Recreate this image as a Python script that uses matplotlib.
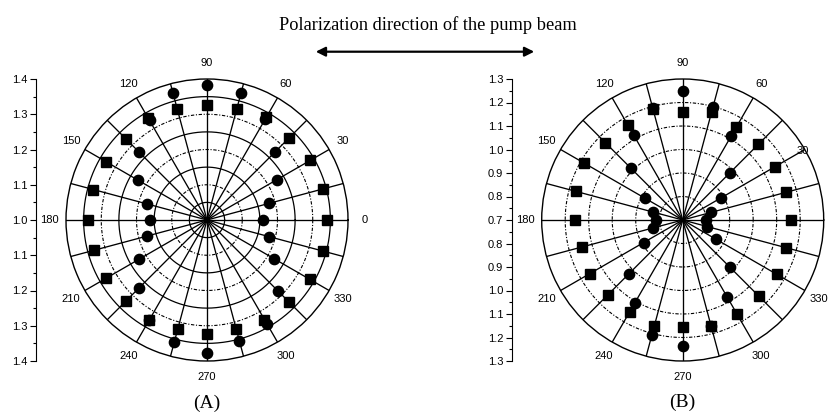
import numpy as np
import matplotlib
matplotlib.use("Agg")
import matplotlib.pyplot as plt

# ---------------- data ----------------
angles_deg = [0, 15, 30, 45, 60, 75, 90, 105, 120, 135, 150, 165,
              180, 195, 210, 225, 240, 255, 270, 285, 300, 315, 330, 345]

A_circles = [1.160, 1.182, 1.229, 1.271, 1.330, 1.373, 1.383, 1.372, 1.326, 1.271, 1.226, 1.175,
             1.162, 1.177, 1.223, 1.271, 1.328, 1.357, 1.376, 1.356, 1.342, 1.284, 1.220, 1.182]
A_squares = [1.340, 1.340, 1.338, 1.330, 1.337, 1.325, 1.326, 1.325, 1.333, 1.326, 1.331, 1.334,
             1.337, 1.333, 1.331, 1.323, 1.328, 1.320, 1.324, 1.319, 1.326, 1.329, 1.337, 1.340]

B_circles = [0.800, 0.825, 0.890, 0.985, 1.115, 1.200, 1.250, 1.193, 1.116, 1.010, 0.885, 0.832,
             0.815, 0.830, 0.892, 1.023, 1.110, 1.207, 1.235, 1.168, 1.076, 0.985, 0.864, 0.808]
B_squares = [1.161, 1.155, 1.152, 1.156, 1.155, 1.174, 1.161, 1.189, 1.169, 1.166, 1.183, 1.170,
             1.157, 1.145, 1.156, 1.151, 1.151, 1.169, 1.157, 1.168, 1.163, 1.160, 1.162, 1.155]

A_angle_labels = [0, 30, 60, 90, 120, 150, 180, 210, 240, 270, 300, 330]
B_angle_labels = [30, 60, 90, 120, 150, 180, 210, 240, 270, 300, 330]

A_rlim = (1.0, 1.4)
A_rings_solid = [1.05, 1.15, 1.25, 1.35]
A_rings_dashed = [1.10, 1.20, 1.30]
A_scale_ticks = [-0.4, -0.3, -0.2, -0.1, 0.0, 0.1, 0.2, 0.3, 0.4]
A_scale_labels = ["1.4", "1.3", "1.2", "1.1", "1.0", "1.1", "1.2", "1.3", "1.4"]

B_rlim = (0.7, 1.3)
B_rings_solid = []
B_rings_dashed = [0.8, 0.9, 1.0, 1.1, 1.2]
B_scale_ticks = [-0.6, -0.5, -0.4, -0.3, -0.2, -0.1, 0.0, 0.1, 0.2, 0.3, 0.4, 0.5, 0.6]
B_scale_labels = ["1.3", "1.2", "1.1", "1.0", "0.9", "0.8", "0.7",
                  "0.8", "0.9", "1.0", "1.1", "1.2", "1.3"]

title = "Polarization direction of the pump beam"

# ---------------- layout ----------------
W, H = 830, 416
fig = plt.figure(figsize=(W / 100, H / 100), dpi=100)
fig.patch.set_facecolor("white")

SANS = ["Liberation Sans", "DejaVu Sans"]
SERIF = ["Liberation Serif", "DejaVu Serif"]


def box(cx, cy, r):
    return [(cx - r) / W, (H - cy - r) / H, 2 * r / W, 2 * r / H]


def polar_panel(cx, cy, rad, rlim, solid, dashed, circ, sq, labels, label_adjust=None):
    ax = fig.add_axes(box(cx, cy, rad), projection="polar")
    ax.set_ylim(*rlim)
    ax.set_xticks([])
    ax.set_yticks([])
    ax.grid(False)
    ax.spines["polar"].set_linewidth(1.0)
    ax.spines["polar"].set_color("black")
    th = np.linspace(0, 2 * np.pi, 721)
    for r in solid:
        ax.plot(th, np.full_like(th, r), color="black", lw=0.9, zorder=2)
    for r in dashed:
        ax.plot(th, np.full_like(th, r), color="black", lw=0.8,
                ls=(0, (3, 1.5, 1, 1.5)), zorder=2)
    for a in angles_deg:
        t = np.deg2rad(a)
        ax.plot([t, t], [rlim[0], rlim[1]], color="black", lw=0.95, zorder=2)
    t = np.deg2rad(angles_deg)
    ax.plot(t, sq, ls="none", marker="s", ms=6.6, color="black", zorder=4, clip_on=False)
    ax.plot(t, circ, ls="none", marker="o", ms=7.4, color="black", zorder=5, clip_on=False)
    span = rlim[1] - rlim[0]
    for a in labels:
        frac = 1.115
        if label_adjust and a in label_adjust:
            frac = label_adjust[a]
        ax.text(np.deg2rad(a), rlim[0] + frac * span, str(a), ha="center", va="center",
                fontsize=8, family=SANS, clip_on=False)
    return ax


def scale_axis(x, cy, rad, ticks, labels):
    ax = fig.add_axes([x / W, (H - cy - rad) / H, 0.0001, 2 * rad / H])
    lim = max(abs(ticks[0]), abs(ticks[-1]))
    ax.set_ylim(-lim, lim)
    ax.set_xticks([])
    for s in ["top", "right", "bottom"]:
        ax.spines[s].set_visible(False)
    ax.spines["left"].set_linewidth(0.8)
    ax.spines["left"].set_linestyle((0, (1.5, 1)))
    ax.set_yticks(ticks)
    ax.set_yticklabels(labels, fontsize=8, family=SANS)
    minor = [(a + b) / 2 for a, b in zip(ticks[:-1], ticks[1:])]
    ax.set_yticks(minor, minor=True)
    ax.tick_params(axis="y", which="major", direction="out", length=4, width=0.8, pad=2)
    ax.tick_params(axis="y", which="minor", direction="out", length=2, width=0.8)
    ax.patch.set_visible(False)
    return ax


polar_panel(207, 220, 141, A_rlim, A_rings_solid, A_rings_dashed, A_circles, A_squares,
            A_angle_labels)
polar_panel(682.7, 220, 141, B_rlim, B_rings_solid, B_rings_dashed, B_circles, B_squares,
            B_angle_labels, label_adjust={30: 0.98})

scale_axis(36, 220, 141, A_scale_ticks, A_scale_labels)
scale_axis(511.7, 220, 141, B_scale_ticks, B_scale_labels)

fig.text(207 / W, 1 - 403 / H, "(A)", ha="center", va="center", fontsize=14, family=SERIF)
fig.text(682.7 / W, 1 - 402 / H, "(B)", ha="center", va="center", fontsize=14, family=SERIF)
fig.text(428 / W, 1 - 25 / H, title, ha="center", va="center", fontsize=13.2, family=SERIF)

fig.add_artist(matplotlib.patches.FancyArrowPatch(
    (313 / W, 1 - 51.7 / H), (537 / W, 1 - 51.7 / H), transform=fig.transFigure,
    arrowstyle="<|-|>", mutation_scale=14, color="black", lw=1.6))

fig.savefig("out.png", dpi=100, facecolor="white")
